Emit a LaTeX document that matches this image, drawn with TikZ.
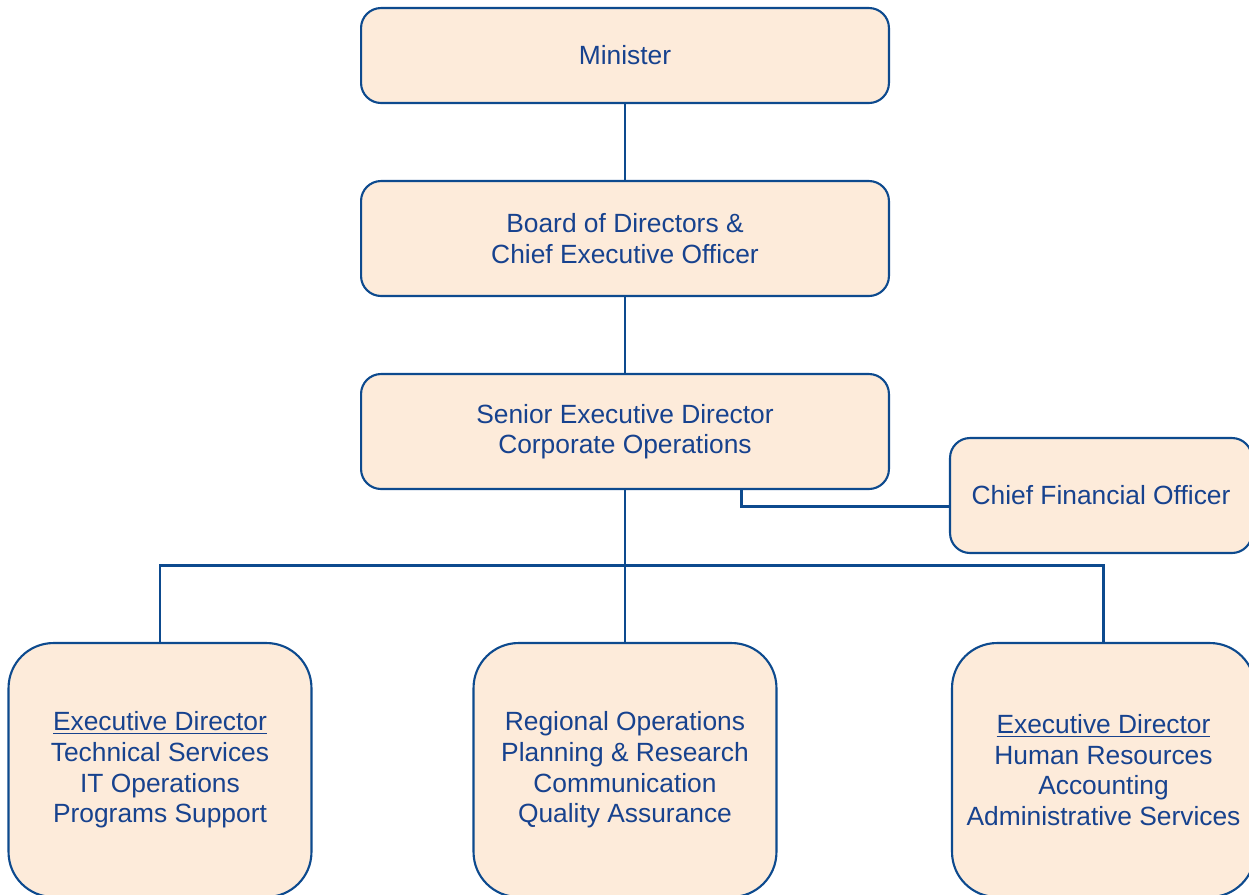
\documentclass[tikz,border=0pt]{standalone}
\usepackage{fontspec}
\setmainfont{Liberation Sans}
\usetikzlibrary{positioning}

\definecolor{orgblue}{HTML}{0D4A8E}
\definecolor{orgtext}{HTML}{17428E}
\definecolor{orgfill}{HTML}{FDEBDA}

\tikzset{
	unit/.style={draw=orgblue, line width=1.2pt, fill=orgfill, text=orgtext,
		rounded corners=0.4cm, align=center, inner sep=0pt,
		font=\fontsize{15}{17.4}\selectfont},
	topunit/.style={unit, minimum width=10.56cm, minimum height=2.3cm},
	subunit/.style={unit, rounded corners=0.9cm, minimum width=6.06cm, minimum height=5.08cm},
	link/.style={draw=orgblue, line width=1.7pt}
}

\begin{document}
\begin{tikzpicture}[x=0.02cm,y=-0.02cm]
		\useasboundingbox (0,0) rectangle (1249,894);
		% top of the chart
		\node[topunit, minimum height=1.9cm] (minister) at (625,55.5) {Minister};
		\node[topunit] (board) at (625,238.5) {Board of Directors \&\\Chief Executive Officer};
		\node[topunit] (senior) at (625,431.5) {Senior Executive Director\\Corporate Operations};
		\node[unit, minimum width=6.04cm, minimum height=2.3cm] (cfo) at (1101,495.5) {Chief Financial Officer};
		% the three branches
		\node[subunit] (technical) at (160,770) {\underline{Executive Director}\\Technical Services\\IT Operations\\Programs Support};
		\node[subunit] (regional) at (625,770) {Regional Operations\\Planning \& Research\\Communication\\Quality Assurance};
		\node[subunit] (human) at (1103.5,770) {\underline{Executive Director}\\Human Resources\\Accounting\\Administrative Services};
		\coordinate (bus) at (625,565);
		% connectors
		\draw[link] (minister.south) -- (board.north);
		\draw[link] (board.south) -- (senior.north);
		\draw[link] (senior.south) -- (regional.north);
		\draw[link] (technical.north) |- (bus) -| (human.north);
		\draw[link] ([xshift=2.34cm]senior.south) |- ([yshift=-0.21cm]cfo.west);
	\end{tikzpicture}
\end{document}
